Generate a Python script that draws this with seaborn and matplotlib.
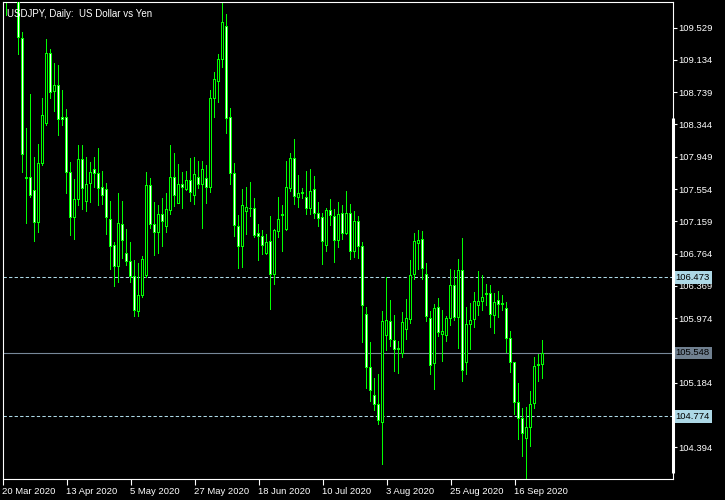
import matplotlib
matplotlib.use("Agg")
import matplotlib.pyplot as plt
import seaborn as sns
import pandas as pd

# USDJPY daily candles, 20 Mar 2020 .. 25 Sep 2020
opens = [110.70, 110.90, 111.20, 111.25, 111.10, 109.39, 107.68, 107.69, 107.54, 107.15,
         107.86, 108.35, 109.21, 108.75, 108.82, 108.43, 108.43, 107.75, 107.20, 107.42,
         107.92, 107.40, 107.62, 107.79, 107.74, 107.57, 107.55, 107.18, 106.86, 106.60,
         107.12, 106.77, 106.67, 106.48, 106.06, 106.25, 106.49, 107.60, 107.12, 107.02,
         107.24, 107.09, 107.29, 107.69, 107.38, 107.605, 107.547, 107.654, 107.48, 107.70,
         107.605, 107.68, 107.576, 108.659, 108.867, 109.137, 109.541, 108.426, 107.74, 107.09,
         106.853, 107.282, 107.32, 107.311, 107.004, 106.968, 106.767, 106.906, 106.506, 107.036,
         107.23, 107.057, 107.563, 107.924, 107.453, 107.51, 107.446, 107.318, 107.551, 107.249,
         107.20, 106.865, 107.286, 107.22, 106.926, 107.249, 107.012, 107.257, 106.791, 107.152,
         106.853, 106.016, 105.375, 105.031, 104.921, 104.696, 105.767, 105.938, 105.706, 105.60,
         105.546, 105.84, 105.963, 106.502, 106.89, 106.931, 106.514, 105.975, 105.424, 106.11,
         105.779, 105.767, 105.975, 106.375, 105.987, 106.563, 105.436, 105.902, 105.963, 106.13,
         106.183, 106.26, 106.281, 106.012, 106.191, 106.15, 106.098, 105.73, 105.436, 104.946,
         104.741, 104.503, 104.638, 104.929, 105.39, 105.411]
highs = [111.20, 111.60, 111.70, 111.60, 111.30, 109.47, 108.30, 108.72, 107.94, 108.10,
         108.67, 109.39, 109.27, 109.10, 109.07, 108.77, 108.53, 107.88, 107.68, 108.09,
         108.09, 107.95, 107.89, 107.94, 108.05, 107.77, 107.63, 107.41, 106.90, 107.50,
         107.41, 107.07, 106.90, 106.68, 106.65, 106.74, 107.76, 107.69, 107.40, 107.36,
         107.44, 107.51, 108.09, 107.99, 107.86, 107.76, 107.78, 107.93, 107.95, 107.90,
         107.90, 107.85, 108.77, 108.98, 109.20, 109.835, 109.69, 108.54, 107.875, 107.24,
         107.56, 107.576, 107.645, 107.449, 107.131, 107.057, 107.008, 107.229, 107.069, 107.462,
         107.364, 107.891, 107.989, 108.16, 107.728, 107.572, 107.777, 107.793, 107.719, 107.401,
         107.262, 107.323, 107.433, 107.311, 107.401, 107.364, 107.535, 107.376, 107.29, 107.229,
         106.902, 106.114, 105.685, 105.247, 105.292, 106.065, 106.478, 106.20, 106.011, 105.697,
         106.052, 106.212, 106.69, 107.021, 107.057, 107.045, 106.653, 106.056, 106.15, 106.22,
         106.077, 106.003, 106.579, 106.563, 106.702, 106.951, 106.105, 106.163, 106.294, 106.551,
         106.502, 106.395, 106.379, 106.281, 106.31, 106.261, 106.171, 105.82, 105.443, 105.178,
         104.876, 104.884, 105.084, 105.501, 105.538, 105.709]
lows = [110.00, 109.67, 110.30, 110.40, 109.19, 107.75, 107.13, 107.45, 106.91, 107.02,
        107.83, 108.32, 108.66, 108.50, 108.20, 108.32, 107.49, 106.98, 106.93, 107.34,
        107.30, 107.27, 107.38, 107.57, 107.34, 107.36, 106.99, 106.56, 106.36, 106.40,
        106.70, 106.61, 106.41, 105.99, 105.99, 106.22, 106.47, 107.06, 106.74, 106.76,
        106.85, 107.02, 107.24, 107.33, 107.38, 107.315, 107.535, 107.392, 107.355, 107.56,
        107.069, 107.376, 107.502, 108.418, 108.605, 109.034, 108.225, 107.609, 106.971, 106.571,
        106.583, 106.996, 107.208, 106.951, 106.669, 106.751, 106.742, 106.068, 106.375, 106.951,
        106.788, 107.036, 107.514, 107.355, 107.327, 107.433, 107.241, 107.241, 107.192, 107.094,
        106.628, 106.779, 107.106, 106.653, 106.833, 106.935, 106.996, 106.681, 106.706, 106.702,
        105.676, 105.112, 104.953, 104.839, 104.668, 104.177, 105.578, 105.627, 105.321, 105.296,
        105.485, 105.701, 105.897, 106.436, 106.558, 106.436, 105.93, 105.28, 105.10, 105.742,
        105.443, 105.688, 105.872, 105.942, 105.602, 105.198, 105.28, 105.59, 105.848, 105.995,
        106.056, 106.126, 105.856, 105.786, 105.97, 106.056, 105.546, 105.301, 104.79, 104.48,
        104.272, 104.006, 104.401, 104.86, 105.198, 105.231]
closes = [110.90, 111.20, 111.25, 111.10, 109.41, 107.97, 107.70, 107.48, 107.15, 107.86,
          108.45, 109.21, 108.73, 108.82, 108.41, 108.41, 107.75, 107.21, 107.43, 107.92,
          107.56, 107.61, 107.76, 107.74, 107.56, 107.48, 107.21, 106.85, 106.60, 107.13,
          106.92, 106.67, 106.48, 106.07, 106.25, 106.69, 107.60, 107.12, 107.02, 107.24,
          107.16, 107.30, 107.69, 107.48, 107.61, 107.576, 107.654, 107.507, 107.728, 107.609,
          107.789, 107.576, 108.659, 108.892, 109.137, 109.59, 108.421, 107.74, 107.11, 106.853,
          107.348, 107.323, 107.31, 106.988, 106.968, 106.865, 106.894, 106.506, 107.045, 107.176,
          107.24, 107.568, 107.924, 107.465, 107.495, 107.50, 107.318, 107.519, 107.249, 107.196,
          106.914, 107.286, 107.233, 106.926, 107.241, 107.012, 107.249, 106.791, 107.152, 106.853,
          106.125, 105.375, 105.093, 104.921, 104.72, 105.93, 105.951, 105.713, 105.595, 105.59,
          105.917, 105.966, 106.49, 106.906, 106.92, 106.576, 105.995, 105.399, 106.098, 105.804,
          105.816, 105.975, 106.375, 105.987, 106.563, 105.338, 105.902, 105.946, 106.183, 106.183,
          106.232, 106.27, 106.02, 106.171, 106.135, 106.14, 105.73, 105.436, 104.946, 104.741,
          104.566, 104.638, 104.921, 105.387, 105.41, 105.546]

price_ticks = [104.394, 104.789, 105.184, 105.579, 105.974, 106.369, 106.764,
               107.159, 107.554, 107.949, 108.344, 108.739, 109.134, 109.529]
level_lines = [106.473, 104.774]
last_price = 105.548

df = pd.DataFrame({"open": opens, "high": highs, "low": lows, "close": closes})
df["date"] = pd.bdate_range("2020-03-20", periods=len(df))
df["x"] = range(len(df))
df["bear"] = df["close"] < df["open"]

sns.set_theme(style="dark", rc={
    "axes.facecolor": "black", "figure.facecolor": "black",
    "axes.edgecolor": "white", "axes.grid": False,
    "xtick.color": "white", "ytick.color": "white",
    "text.color": "white", "lines.scale_dashes": False,
})
plt.rcParams["font.family"] = ["Liberation Sans", "DejaVu Sans"]

fig = plt.figure(figsize=(7.25, 5), dpi=100)
ax = fig.add_axes([2.5 / 725, 21 / 500, 670 / 725, 477.5 / 500])

ymin, ymax = 104.006, 109.848
px = (ymax - ymin) / 477.5   # one pixel in price units

green = "#00ff00"
body_low = df[["open", "close"]].min(axis=1)
body_high = df[["open", "close"]].max(axis=1)

# one x unit = 4 px: wick 1 px, body frame 3 px, body fill 1 px
ax.bar(df["x"], df["high"] - df["low"], bottom=df["low"], width=0.25,
       color=green, linewidth=0, zorder=2)
ax.bar(df["x"], body_high - body_low + px, bottom=body_low - 0.5 * px, width=0.75,
       color=green, linewidth=0, zorder=3)
inner_h = (body_high - body_low - px).clip(lower=0)
ax.bar(df["x"], inner_h, bottom=body_low + 0.5 * px, width=0.25,
       color=["white" if b else "black" for b in df["bear"]],
       linewidth=0, zorder=4)

# horizontal levels
for lvl in level_lines:
    ax.axhline(lvl, color="#add8e6", lw=0.75, dashes=(2.4, 1.6), zorder=1)
ax.axhline(last_price, color="#778899", lw=0.8, zorder=1)

ax.set_xlim(0, 167.5)
ax.set_ylim(ymin, ymax)

# right price scale (labels under the price boxes stay hidden)
hidden = {105.579, 104.789}
ax.yaxis.tick_right()
ax.set_yticks(price_ticks)
ax.set_yticklabels(["" if t in hidden else f"{t:.3f}" for t in price_ticks])
ax.tick_params(axis="y", direction="out", length=3, width=0.8, pad=1.5,
               labelsize=6.8, colors="white", left=False, right=True)

# date axis
date_idx = list(range(0, len(df), 16))
ax.set_xticks(date_idx)
ax.set_xticklabels([f"{d.day} {d:%b %Y}" for d in df["date"].iloc[date_idx]],
                   ha="left")
ax.tick_params(axis="x", direction="out", length=4, width=0.8, pad=1.5,
               labelsize=6.8, colors="white", bottom=True)

for s in ax.spines.values():
    s.set_color("white")
    s.set_linewidth(0.8)

# price boxes on the scale
def price_box(val, face):
    ax.text(1.0045, val, f"{val:.3f}", transform=ax.get_yaxis_transform(),
            ha="left", va="center", fontsize=6.8, color="black", zorder=5,
            clip_on=False,
            bbox=dict(boxstyle="square,pad=0.2", facecolor=face, edgecolor="none"))

for lvl in level_lines:
    price_box(lvl, "#add8e6")
price_box(last_price, "#708090")

# thick marker on the right border
ax.plot([1, 1], [0.0126, 0.757], transform=ax.transAxes, color="white",
        lw=2.2, clip_on=False, solid_capstyle="butt", zorder=6)

ax.text(0.0065, 0.985, "USDJPY, Daily:  US Dollar vs Yen", transform=ax.transAxes,
        ha="left", va="top", fontsize=7, color="white")

fig.savefig("out.png", dpi=100, facecolor="black")
